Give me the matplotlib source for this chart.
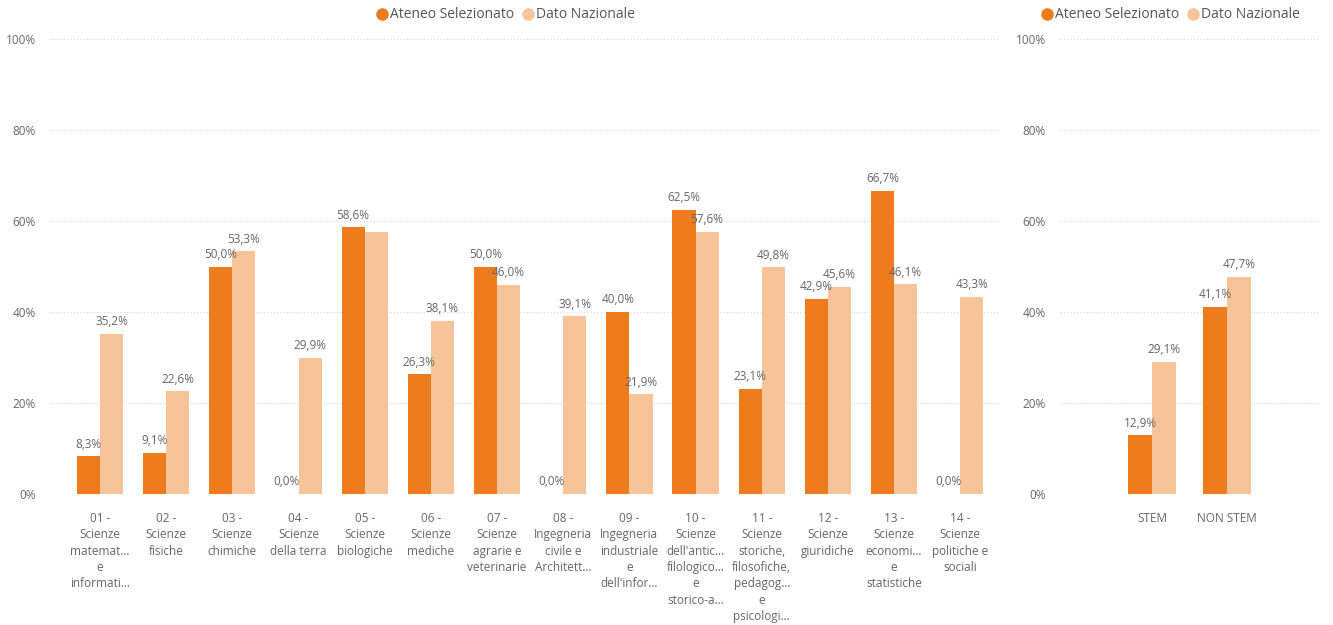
import numpy as np
import matplotlib
matplotlib.use('Agg')
import matplotlib.pyplot as plt
from matplotlib.lines import Line2D

plt.rcParams['font.family'] = ['Open Sans', 'DejaVu Sans']

# dati per area disciplinare
categorie = [
    "01 -\nScienze\nmatemat…\ne\ninformati…",
    "02 -\nScienze\nfisiche",
    "03 -\nScienze\nchimiche",
    "04 -\nScienze\ndella terra",
    "05 -\nScienze\nbiologiche",
    "06 -\nScienze\nmediche",
    "07 -\nScienze\nagrarie e\nveterinarie",
    "08 -\nIngegneria\ncivile e\nArchitett…",
    "09 -\nIngegneria\nindustriale\ne\ndell'infor…",
    "10 -\nScienze\ndell'antic…\nfilologico…\ne\nstorico-a…",
    "11 -\nScienze\nstoriche,\nfilosofiche,\npedagog…\ne\npsicologi…",
    "12 -\nScienze\ngiuridiche",
    "13 -\nScienze\neconomi…\ne\nstatistiche",
    "14 -\nScienze\npolitiche e\nsociali",
]
ateneo = [8.3, 9.1, 50.0, 0.0, 58.6, 26.3, 50.0, 0.0, 40.0, 62.5, 23.1, 42.9, 66.7, 0.0]
nazionale = [35.2, 22.6, 53.3, 29.9, 57.5, 38.1, 46.0, 39.1, 21.9, 57.6, 49.8, 45.6, 46.1, 43.3]
# etichette nascoste da Power BI (sovrapposte)
nascosti_naz = [4]

# STEM / NON STEM
gruppi = ["STEM", "NON STEM"]
ateneo_stem = [12.9, 41.1]
nazionale_stem = [29.1, 47.7]

ARANCIO = '#EE7B1C'
CHIARO = '#F7C49A'
GRIGIO = '#666666'
FS = 8.5


def fmt(v):
    return ('%.1f%%' % v).replace('.', ',')


def stile(ax):
    ax.set_ylim(0, 100)
    ax.set_yticks([0, 20, 40, 60, 80, 100])
    ax.set_yticklabels(['%d%%' % t for t in [0, 20, 40, 60, 80, 100]])
    ax.grid(axis='y', linestyle=(0, (1, 2)), color='#D5D5D5', linewidth=0.8)
    ax.set_axisbelow(True)
    for s in ax.spines.values():
        s.set_visible(False)
    ax.tick_params(axis='both', length=0, colors=GRIGIO, labelsize=FS)
    ax.tick_params(axis='y', pad=10)
    ax.tick_params(axis='x', pad=13)


def barre(ax, x, a, n, w, nascosti=()):
    ax.bar(x - w / 2, a, w, color=ARANCIO)
    ax.bar(x + w / 2, n, w, color=CHIARO)
    for i in range(len(x)):
        ax.annotate(fmt(a[i]), (x[i] - w / 2, a[i]), xytext=(0, 4), textcoords='offset points',
                    ha='center', va='bottom', fontsize=FS, color=GRIGIO)
        if i not in nascosti:
            ax.annotate(fmt(n[i]), (x[i] + w / 2, n[i]), xytext=(0, 4), textcoords='offset points',
                        ha='center', va='bottom', fontsize=FS, color=GRIGIO)


def legenda(fig, xc, y):
    h = [Line2D([], [], marker='o', linestyle='', color=ARANCIO, markersize=8),
         Line2D([], [], marker='o', linestyle='', color=CHIARO, markersize=8)]
    fig.legend(h, ['Ateneo Selezionato', 'Dato Nazionale'], loc='center', bbox_to_anchor=(xc, y),
               ncol=2, frameon=False, fontsize=10, handletextpad=0.05, columnspacing=0.5,
               labelcolor='#555555', handlelength=1.0, borderaxespad=0)


fig = plt.figure(figsize=(13.33, 6.25), dpi=100)

ax1 = fig.add_axes([50 / 1333, 1 - 494 / 625, 950 / 1333, 455 / 625])
x1 = np.arange(len(categorie))
barre(ax1, x1, ateneo, nazionale, 0.35, nascosti_naz)
stile(ax1)
ax1.set_xlim(-0.755, 13.6)
ax1.set_xticks(x1)
ax1.set_xticklabels(categorie, linespacing=1.33, va='top')

ax2 = fig.add_axes([1060 / 1333, 1 - 494 / 625, 260 / 1333, 455 / 625])
x2 = np.arange(len(gruppi))
barre(ax2, x2, ateneo_stem, nazionale_stem, 0.32)
stile(ax2)
ax2.set_xlim(-1.23, 2.24)
ax2.set_xticks(x2)
ax2.set_xticklabels(gruppi)

legenda(fig, 505 / 1333, 1 - 15 / 625)
legenda(fig, 1170 / 1333, 1 - 15 / 625)

fig.savefig('out.png', dpi=100, facecolor='white')
